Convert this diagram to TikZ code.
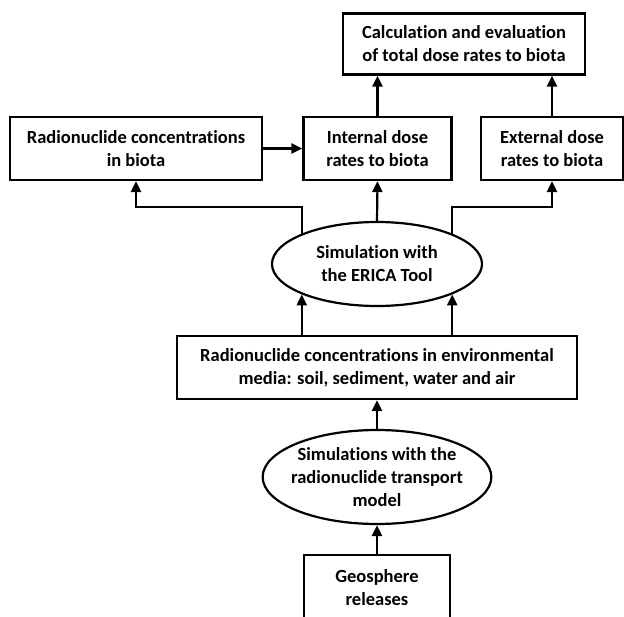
\documentclass[tikz,border=0pt]{standalone}
\usepackage{fontspec}
\setmainfont{Carlito}[Ligatures=NoCommon]
\usetikzlibrary{shapes.geometric,arrows.meta,calc}
\begin{document}
\begin{tikzpicture}[x=1pt,y=-1pt,
  txt/.style={font=\fontsize{18.5}{23}\selectfont\bfseries, align=center, inner sep=0pt},
  box/.style={txt, draw, line width=2.2pt, rectangle},
  oval/.style={txt, draw, line width=2.2pt, ellipse},
  arr/.style={line width=2.2pt, -{Triangle[length=11pt,width=10pt]}}]
\useasboundingbox (0,0) rectangle (624,617);
\node[box, minimum width=242pt, minimum height=61pt] (top) at (464,44) {Calculation and evaluation\\of total dose rates to biota};
\node[box, minimum width=252pt, minimum height=63pt] (left) at (136,148.5) {Radionuclide concentrations\\in biota};
\node[box, minimum width=148pt, minimum height=63pt] (int) at (377.5,148.5) {Internal dose\\rates to biota};
\node[box, minimum width=142pt, minimum height=63pt] (ext) at (552,148.5) {External dose\\rates to biota};
\node[oval, minimum width=210pt, minimum height=84pt] (erica) at (377,264) {Simulation with\\the ERICA Tool};
\node[box, minimum width=400pt, minimum height=63pt] (env) at (377,367.5) {Radionuclide concentrations in environmental\\media: soil, sediment, water and air};
\node[oval, inner xsep=-5pt, inner ysep=-1pt, minimum width=228pt, minimum height=94pt] (trans) at (377,477) {Simulations with the\\radionuclide transport\\model};
\node[box, minimum width=146pt, minimum height=66pt] (geo) at (377,588) {Geosphere\\releases};
\draw[arr] (int.north) -- (int.north |- top.south);
\draw[arr] (ext.north) -- (ext.north |- top.south);
\draw[arr] (left.east) -- (int.west);
\draw[arr] (erica.158) -- ++(0,-27) -| (left.south);
\draw[arr] (erica.north) -- (int.south);
\draw[arr] (erica.22) -- ++(0,-27) -| (ext.south);
\draw[arr] (env.north -| erica.202) -- (erica.202);
\draw[arr] (env.north -| erica.338) -- (erica.338);
\draw[arr] (trans.north) -- (env.south);
\draw[arr] (geo.north) -- (trans.south);
\end{tikzpicture}
\end{document}
